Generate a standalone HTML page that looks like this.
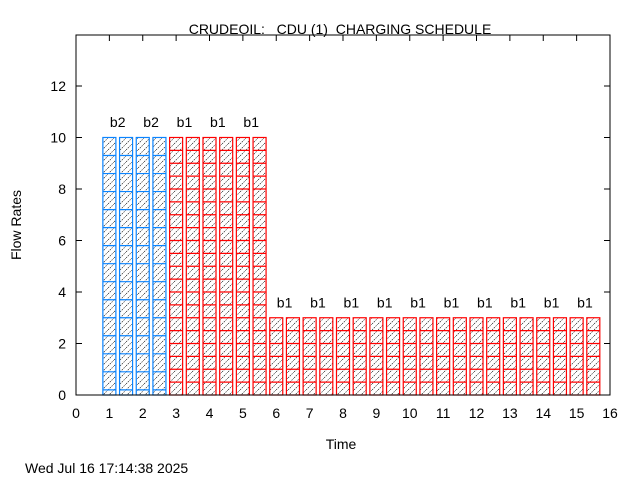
<!DOCTYPE html>
<html><head><meta charset="utf-8"><style>
body{margin:0;background:#fff;}
svg text{font-family:"Liberation Sans",sans-serif;font-size:14px;fill:#000;white-space:pre;}
</style></head><body>
<svg id="chart" width="640" height="480" xmlns="http://www.w3.org/2000/svg">
<defs>
<pattern id="hatch" patternUnits="userSpaceOnUse" width="6" height="6">
<path d="M0,6 L6,0" stroke="#000" stroke-width="0.6" stroke-dasharray="1.5,1"/>
</pattern>
</defs>
<text x="340" y="34" text-anchor="middle" xml:space="preserve">CRUDEOIL:   CDU (1)  CHARGING SCHEDULE</text>
<text x="21" y="225" text-anchor="middle" transform="rotate(-90 21 225)">Flow Rates</text>
<text x="341" y="449" text-anchor="middle">Time</text>
<text x="25" y="473">Wed Jul 16 17:14:38 2025</text>
<g id="axes"></g>
<g id="bars"></g>
<rect x="76" y="35" width="534" height="360" fill="none" stroke="#000" stroke-width="1"/>
</svg>
<script>
const starts = [1,1.5,2,2.5,3,3.5,4,4.5,5,5.5,6,6.5,7,7.5,8,8.5,9,9.5,10,10.5,11,11.5,12,12.5,13,13.5,14,14.5,15,15.5];
const heights = [10,10,10,10,10,10,10,10,10,10,3,3,3,3,3,3,3,3,3,3,3,3,3,3,3,3,3,3,3,3];
const batches = ["b2","b2","b2","b2","b1","b1","b1","b1","b1","b1","b1","b1","b1","b1","b1","b1","b1","b1","b1","b1","b1","b1","b1","b1","b1","b1","b1","b1","b1","b1"];
const xTicks = [0,1,2,3,4,5,6,7,8,9,10,11,12,13,14,15,16];
const yTicks = [0,2,4,6,8,10,12];
const X0=76,X1=610,Y0=395,Y1=35,XMAX=16,YMAX=13.98;
const sx=v=>X0+(X1-X0)*v/XMAX, sy=v=>Y0-(Y0-Y1)*v/YMAX;
const NS="http://www.w3.org/2000/svg";
function mk(t,a,p){const e=document.createElementNS(NS,t);for(const k in a)e.setAttribute(k,a[k]);p.appendChild(e);return e;}
const ax=document.getElementById('axes'), bg=document.getElementById('bars');
xTicks.forEach(v=>{
  const l=mk('path',{d:`M${sx(v)},${Y0}v-6M${sx(v)},${Y1}v6`,stroke:'#000'},ax);
  
  
  const t=mk('text',{x:sx(v),y:Y0+23,'text-anchor':'middle'},ax);t.textContent=v;
  
  
});
yTicks.forEach(v=>{
  const l=mk('path',{d:`M${X0},${sy(v)}h6M${X1},${sy(v)}h-6`,stroke:'#000'},ax);
  
  
  const t=mk('text',{x:X0-10,y:sy(v)+5,'text-anchor':'end'},ax);t.textContent=v;
  
  
});
const W=0.39;
starts.forEach((s,i)=>{
  const h=heights[i], b=batches[i];
  const col=b==='b2'?'#0a84ff':'#ff0000';
  const seg=b==='b2'?0.7:0.5;
  const g=mk('g',{},bg);
  
  
  const x=sx(s-W/2), w=sx(s+W/2)-x;
  mk('rect',{x:x,y:sy(h),width:w,height:sy(0)-sy(h),fill:'#fff'},g);
  mk('rect',{x:x,y:sy(h),width:w,height:sy(0)-sy(h),fill:'url(#hatch)'},g);
  let d='';
  if(b==='b2'){for(let v=h-seg;v>0;v-=seg)d+=`M${x},${sy(v)}h${w}`;}
  else{for(let v=seg;v<h-0.01;v+=seg)d+=`M${x},${sy(v)}h${w}`;}
  mk('path',{d:d,stroke:col,'stroke-width':1.2},g);
  mk('rect',{x:x,y:sy(h),width:w,height:sy(0)-sy(h),fill:'none',stroke:col,'stroke-width':1.2},g);
  if(i%2===0){
    const t=mk('text',{x:sx(s+0.25),y:sy(h+0.6)+5,'text-anchor':'middle'},bg);t.textContent=b;
    
    
  }
});
</script>
</body></html>
